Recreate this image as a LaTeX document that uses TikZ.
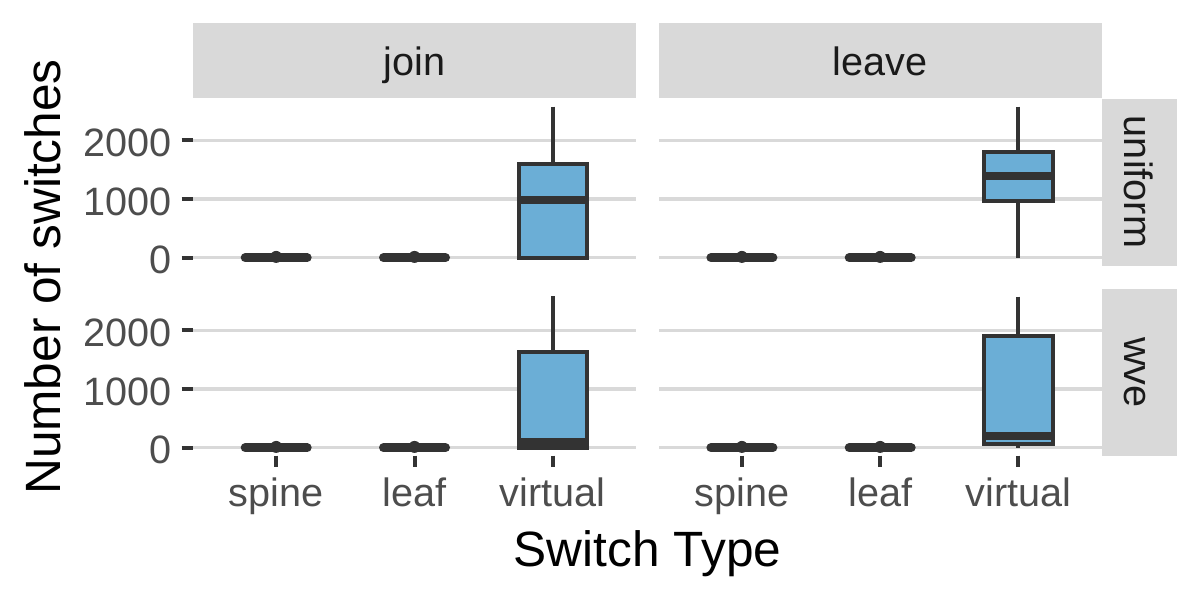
\documentclass[tikz,border=0pt]{standalone}
\usepackage{fontspec}
\setmainfont{Liberation Sans}
\definecolor{gridc}{HTML}{D9D9D9}
\definecolor{stripfill}{HTML}{D9D9D9}
\definecolor{tickc}{HTML}{4D4D4D}
\definecolor{darkc}{HTML}{333333}
\definecolor{striptext}{HTML}{1A1A1A}
\definecolor{boxc}{HTML}{6BAED6}
\begin{document}
\begin{tikzpicture}[x=1pt,y=-1pt,
  gridline/.style={draw=gridc, line width=3.5pt},
  tickmark/.style={draw=darkc, line width=4pt},
  ticklab/.style={text=tickc, font=\fontsize{39.6}{40}\selectfont, inner sep=0pt},
  striplab/.style={text=striptext, font=\fontsize{39.6}{40}\selectfont, inner sep=0pt},
  titlelab/.style={text=black, font=\fontsize{49.6}{50}\selectfont, inner sep=0pt},
  boxbody/.style={draw=darkc, fill=boxc, line width=4pt},
  medline/.style={draw=darkc, line width=8pt},
  whisk/.style={draw=darkc, line width=4pt},
  flatbox/.style={draw=darkc, line width=9pt, line cap=round},
]
\useasboundingbox (0,0) rectangle (1200,600);

% strips
\fill[stripfill] (193.3,22.7) rectangle (636,97.7);
\fill[stripfill] (659,22.7) rectangle (1101.7,97.7);
\fill[stripfill] (1102.3,98.5) rectangle (1176.7,265.7);
\fill[stripfill] (1102.3,289) rectangle (1176.7,455.7);

% gridlines
\foreach \y in {140.3,199,257.7,330.3,389,447.7}{
  \draw[gridline] (193.3,\y) -- (636,\y);
  \draw[gridline] (659,\y) -- (1101.7,\y);
}

% y tick marks
\foreach \y in {140.3,199,257.7,330.3,389,447.7}{
  \draw[tickmark] (181.7,\y) -- (193.3,\y);
}
% x tick marks
\foreach \x in {276.2,414.5,552.8,741.9,880.2,1018.3}{
  \draw[tickmark] (\x,455.7) -- (\x,466.7);
}

% flat boxes (spine, leaf)
\foreach \x in {276.2,414.5,741.9,880.2}{
  \foreach \y in {257.7,447.7}{
    \draw[flatbox] ({\x-31},\y) -- ({\x+31},\y);
    \fill[darkc] (\x,{\y-0.8}) circle (6);
  }
}

% join / uniform virtual
\draw[whisk] (552.8,106.7) -- (552.8,164);
\draw[boxbody] (518.5,164) rectangle (587.1,257.7);
\draw[medline] (518.5,200) -- (587.1,200);

% leave / uniform virtual
\draw[whisk] (1018.3,106.7) -- (1018.3,152.3);
\draw[whisk] (1018.3,200.7) -- (1018.3,257.7);
\draw[boxbody] (984,152.3) rectangle (1052.6,200.7);
\draw[medline] (984,176) -- (1052.6,176);

% join / wve virtual
\draw[whisk] (552.8,296) -- (552.8,351.7);
\draw[boxbody] (518.5,351.7) rectangle (587.1,447.7);
\draw[medline] (518.5,442) -- (587.1,442);

% leave / wve virtual
\draw[whisk] (1018.3,296.7) -- (1018.3,335.7);
\draw[whisk] (1018.3,444) -- (1018.3,447.7);
\draw[boxbody] (984,335.7) rectangle (1052.6,444);
\draw[medline] (984,435.5) -- (1052.6,435.5);

% y tick labels
\node[ticklab, anchor=base east] (y2a) at (171.7,156.3) {2000};
\node[ticklab, anchor=base east] (y1a) at (171.7,215) {1000};
\node[ticklab, anchor=base east] (y0a) at (171.7,273.7) {0};
\node[ticklab, anchor=base east] (y2b) at (171.7,346.3) {2000};
\node[ticklab, anchor=base east] (y1b) at (171.7,405) {1000};
\node[ticklab, anchor=base east] (y0b) at (171.7,463.7) {0};

% x tick labels
\node[ticklab, anchor=base] (xs1) at (276.2,506.7) {spine};
\node[ticklab, anchor=base] (xl1) at (414.5,506.7) {leaf};
\node[ticklab, anchor=base] (xv1) at (552.8,506.7) {virtual};
\node[ticklab, anchor=base] (xs2) at (741.9,506.7) {spine};
\node[ticklab, anchor=base] (xl2) at (880.2,506.7) {leaf};
\node[ticklab, anchor=base] (xv2) at (1018.3,506.7) {virtual};

% strip labels
\node[striplab, anchor=base] (sjoin) at (414.6,75.7) {join};
\node[striplab, anchor=base] (sleave) at (880.3,75.7) {leave};
\node[striplab, anchor=base, rotate=-90] (sunif) at (1124,182) {uniform};
\node[striplab, anchor=base, rotate=-90] (swve) at (1124,372.3) {wve};

% axis titles
\node[titlelab, anchor=base] (xtitle) at (647.5,566.7) {Switch Type};
\node[titlelab, anchor=base, rotate=90] (ytitle) at (60,277) {Number of switches};
\end{tikzpicture}
\end{document}
